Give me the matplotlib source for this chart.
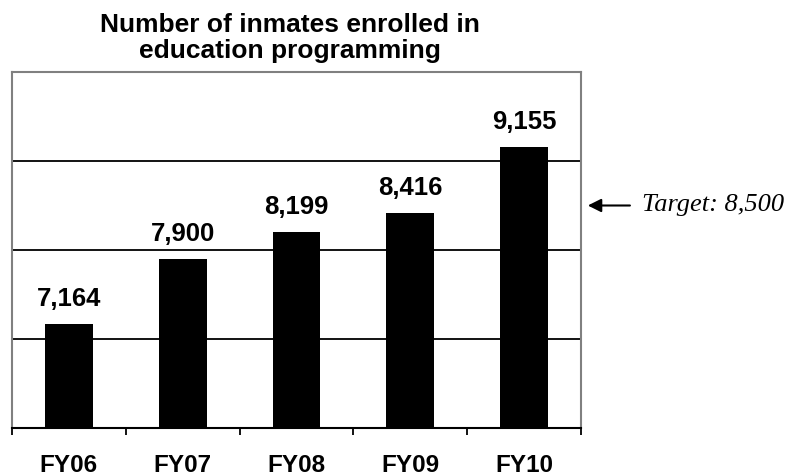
import matplotlib
matplotlib.use("Agg")
import matplotlib.pyplot as plt

categories = ["FY06", "FY07", "FY08", "FY09", "FY10"]
values = [7164, 7900, 8199, 8416, 9155]
value_labels = ["7,164", "7,900", "8,199", "8,416", "9,155"]
target = 8500
target_label = "Target: 8,500"
title = "Number of inmates enrolled in\neducation programming"

plt.rcParams['font.family'] = ['Liberation Sans', 'DejaVu Sans']

fig = plt.figure(figsize=(7.89, 4.74), dpi=100)
ax = fig.add_axes([12/789, 1 - 428/474, (581-12)/789, (428-72)/474])

x = list(range(len(categories)))
ax.bar(x, values, width=0.42, color="black", zorder=3)
ax.set_ylim(6000, 10000)
ax.set_xlim(-0.5, len(categories) - 0.5)

for yv in [7000, 8000, 9000]:
    ax.axhline(yv, color="black", lw=1.3, zorder=2)

for xi, v, lab in zip(x, values, value_labels):
    ax.annotate(lab, (xi, v), xytext=(0, 13), textcoords="offset points",
                ha="center", va="baseline", fontsize=18.5, fontweight="bold")

ax.set_yticks([])
ax.set_xticks([i - 0.5 for i in range(len(categories) + 1)])
ax.set_xticklabels([])
ax.tick_params(axis="x", which="major", direction="out", length=5, width=1.3, color="black")
ax.set_xticks(x, minor=True)
ax.set_xticklabels(categories, minor=True, fontsize=17.5, fontweight="bold")
ax.tick_params(axis="x", which="minor", length=0, pad=18.5)

for s in ["top", "left", "right"]:
    ax.spines[s].set_color("#808080")
    ax.spines[s].set_linewidth(1.5)
ax.spines["bottom"].set_color("black")
ax.spines["bottom"].set_linewidth(1.5)

ax.set_title(title, fontsize=19, fontweight="bold", pad=10, linespacing=1.12, x=0.488)

ax.annotate("", xy=(1.012, target), xycoords=("axes fraction", "data"),
            xytext=(1.086, target), textcoords=("axes fraction", "data"),
            arrowprops=dict(arrowstyle="-|>", color="black", lw=1.5,
                            mutation_scale=20, shrinkA=0, shrinkB=0),
            annotation_clip=False)
ax.annotate(target_label, xy=(1.1075, target), xycoords=("axes fraction", "data"),
            ha="left", va="center", fontsize=19, fontstyle="italic",
            family=["Liberation Serif", "DejaVu Serif"], annotation_clip=False)

fig.savefig("out.png", dpi=100)
